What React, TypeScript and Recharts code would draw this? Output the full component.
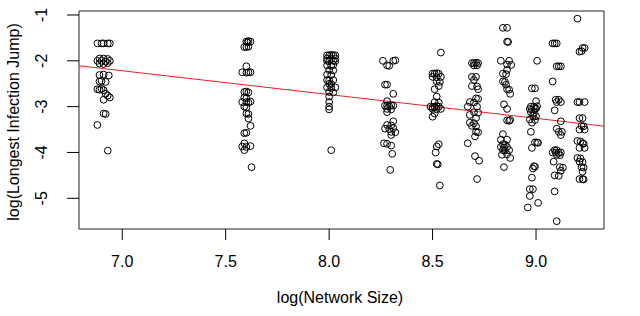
import {
  ScatterChart, Scatter, XAxis, YAxis, ReferenceLine, ReferenceArea,
} from "recharts";

type Pt = [number, number];

// log(network size) vs log(longest infection jump), one group per network size
const N1000: Pt[] = [
  [6.88, -1.62], [6.9, -1.62], [6.91, -1.62], [6.93, -1.62], [6.94, -1.62],
  [6.89, -1.95], [6.91, -1.95], [6.93, -1.96],
  [6.88, -2.0], [6.9, -2.0], [6.92, -2.02], [6.94, -2.0],
  [6.89, -2.06], [6.91, -2.07], [6.93, -2.05],
  [6.89, -2.31], [6.91, -2.3], [6.935, -2.32],
  [6.89, -2.45], [6.9, -2.44], [6.92, -2.46],
  [6.88, -2.62], [6.89, -2.63], [6.9, -2.61], [6.91, -2.64],
  [6.92, -2.72], [6.93, -2.76], [6.94, -2.8], [6.91, -2.85],
  [6.91, -3.15], [6.92, -3.16],
  [6.88, -3.4],
  [6.93, -3.96],
];
const N2000: Pt[] = [
  [7.6, -1.58], [7.61, -1.57], [7.62, -1.58], [7.605, -1.6],
  [7.59, -1.7], [7.6, -1.7], [7.61, -1.69],
  [7.6, -2.12],
  [7.58, -2.25], [7.6, -2.26], [7.61, -2.25], [7.62, -2.25],
  [7.59, -2.68], [7.6, -2.67], [7.61, -2.69],
  [7.59, -2.8], [7.6, -2.82],
  [7.58, -2.9], [7.6, -2.9], [7.61, -2.91], [7.62, -2.89],
  [7.59, -3.0], [7.6, -3.02],
  [7.6, -3.15], [7.61, -3.16],
  [7.61, -3.26],
  [7.62, -3.42],
  [7.59, -3.58], [7.6, -3.57],
  [7.59, -3.8],
  [7.58, -3.87], [7.6, -3.88], [7.62, -3.86],
  [7.59, -3.95],
  [7.625, -4.32],
];
const N3000: Pt[] = [
  [7.99, -1.88], [8.0, -1.88], [8.01, -1.87], [8.02, -1.88], [8.03, -1.88],
  [7.99, -1.95], [8.01, -1.96], [8.03, -1.95],
  [7.99, -2.0], [8.0, -2.01], [8.02, -2.0], [8.03, -2.01],
  [7.99, -2.1], [8.01, -2.11], [8.02, -2.09],
  [8.0, -2.2], [8.02, -2.21],
  [7.99, -2.3], [8.01, -2.31],
  [7.99, -2.42], [8.0, -2.43], [8.02, -2.42],
  [8.0, -2.5], [8.01, -2.51],
  [7.99, -2.58], [8.01, -2.59], [8.03, -2.58],
  [8.0, -2.68], [8.02, -2.69],
  [8.0, -2.78],
  [8.0, -2.9],
  [8.0, -3.0],
  [8.0, -3.06],
  [8.01, -3.95],
];
const N4000: Pt[] = [
  [8.26, -2.0], [8.31, -2.0], [8.32, -1.99],
  [8.28, -2.1], [8.29, -2.11],
  [8.27, -2.52], [8.28, -2.52],
  [8.31, -2.72],
  [8.28, -2.88],
  [8.27, -2.98], [8.28, -2.98], [8.29, -2.99], [8.3, -2.97], [8.31, -2.98],
  [8.28, -3.05], [8.3, -3.06],
  [8.28, -3.12],
  [8.31, -3.32],
  [8.28, -3.4], [8.3, -3.41],
  [8.27, -3.48], [8.29, -3.49], [8.31, -3.47],
  [8.3, -3.55], [8.32, -3.56],
  [8.3, -3.62],
  [8.265, -3.8], [8.28, -3.81],
  [8.3, -3.85],
  [8.305, -4.03],
  [8.295, -4.38],
];
const N5000: Pt[] = [
  [8.54, -1.82],
  [8.5, -2.28], [8.51, -2.28], [8.52, -2.27], [8.53, -2.28],
  [8.5, -2.35], [8.52, -2.36], [8.54, -2.35],
  [8.52, -2.45], [8.535, -2.46],
  [8.53, -2.55],
  [8.51, -2.62],
  [8.52, -2.78],
  [8.51, -2.9], [8.53, -2.91],
  [8.49, -3.0], [8.5, -3.01], [8.51, -3.0], [8.52, -2.99], [8.53, -3.0],
  [8.5, -3.05], [8.52, -3.06], [8.54, -3.05],
  [8.51, -3.15],
  [8.5, -3.22],
  [8.53, -3.82],
  [8.52, -3.87],
  [8.515, -4.0],
  [8.52, -4.25], [8.525, -4.26],
  [8.535, -4.72],
];
const N6000: Pt[] = [
  [8.69, -2.05], [8.7, -2.05], [8.71, -2.04], [8.72, -2.05],
  [8.7, -2.1], [8.715, -2.1],
  [8.69, -2.35], [8.71, -2.35],
  [8.7, -2.42],
  [8.69, -2.55], [8.715, -2.56],
  [8.72, -2.62],
  [8.71, -2.82], [8.72, -2.83],
  [8.68, -2.9], [8.7, -2.91],
  [8.67, -3.0], [8.715, -3.0],
  [8.7, -3.12], [8.72, -3.13],
  [8.68, -3.18],
  [8.71, -3.25],
  [8.68, -3.35], [8.7, -3.36],
  [8.69, -3.42], [8.71, -3.43],
  [8.71, -3.55], [8.72, -3.56],
  [8.705, -3.65],
  [8.67, -3.8],
  [8.705, -4.08],
  [8.725, -4.18],
  [8.715, -4.58],
];
const N7000: Pt[] = [
  [8.84, -1.28], [8.86, -1.28],
  [8.86, -1.58], [8.865, -1.59],
  [8.83, -2.0], [8.87, -2.0],
  [8.86, -2.08], [8.88, -2.09],
  [8.86, -2.2],
  [8.84, -2.28], [8.855, -2.29],
  [8.84, -2.45], [8.85, -2.46],
  [8.855, -2.52],
  [8.86, -2.62], [8.87, -2.63],
  [8.875, -2.72],
  [8.845, -2.95],
  [8.86, -3.05],
  [8.86, -3.3], [8.87, -3.31], [8.875, -3.29],
  [8.84, -3.6],
  [8.83, -3.72], [8.86, -3.72],
  [8.84, -3.82], [8.85, -3.83],
  [8.83, -3.88], [8.845, -3.89], [8.86, -3.88],
  [8.84, -3.95], [8.85, -3.96], [8.87, -3.95],
  [8.835, -4.05], [8.86, -4.04],
  [8.875, -4.12],
  [8.845, -4.32],
];
const N8000: Pt[] = [
  [9.005, -2.0],
  [8.98, -2.6], [8.995, -2.6],
  [9.0, -2.88],
  [8.975, -3.0], [8.99, -3.0], [9.005, -2.99],
  [8.97, -3.05], [8.98, -3.06], [8.995, -3.05], [9.0, -3.04],
  [8.975, -3.12], [8.99, -3.13],
  [8.985, -3.2], [9.0, -3.21],
  [8.97, -3.28], [8.995, -3.29],
  [8.98, -3.35],
  [8.975, -3.55],
  [8.995, -3.78], [9.005, -3.78], [9.01, -3.79],
  [8.98, -3.9],
  [8.99, -4.3], [8.995, -4.31],
  [8.985, -4.35],
  [8.98, -4.55],
  [8.97, -4.8], [8.985, -4.8],
  [8.97, -4.95],
  [9.01, -5.1],
  [8.96, -5.2],
];
const N9000: Pt[] = [
  [9.08, -1.62], [9.09, -1.62], [9.1, -1.62],
  [9.1, -2.12], [9.11, -2.12], [9.12, -2.12],
  [9.08, -2.45],
  [9.095, -2.85], [9.11, -2.85],
  [9.1, -2.9], [9.12, -2.9],
  [9.09, -3.08],
  [9.12, -3.32],
  [9.1, -3.48],
  [9.11, -3.55], [9.125, -3.55],
  [9.12, -3.62],
  [9.09, -3.95], [9.1, -3.95],
  [9.08, -4.0], [9.095, -4.0], [9.11, -4.01], [9.12, -4.0],
  [9.1, -4.05], [9.115, -4.06],
  [9.085, -4.2],
  [9.115, -4.32], [9.13, -4.33],
  [9.12, -4.4],
  [9.09, -4.5], [9.11, -4.51],
  [9.09, -4.85],
  [9.1, -5.5],
];
const N10000: Pt[] = [
  [9.2, -1.08],
  [9.225, -1.72], [9.235, -1.72],
  [9.21, -1.8], [9.22, -1.79],
  [9.2, -2.9], [9.21, -2.9], [9.235, -2.9],
  [9.21, -3.25], [9.225, -3.25],
  [9.22, -3.42], [9.23, -3.43],
  [9.21, -3.5], [9.235, -3.5],
  [9.2, -3.75], [9.215, -3.76],
  [9.225, -3.8], [9.23, -3.81],
  [9.21, -3.9], [9.235, -3.9],
  [9.2, -4.12], [9.215, -4.13],
  [9.21, -4.2], [9.225, -4.21],
  [9.22, -4.32], [9.23, -4.33],
  [9.225, -4.42],
  [9.21, -4.58], [9.225, -4.58], [9.23, -4.59],
];

const X_TICKS = [7, 7.5, 8, 8.5, 9];
const Y_TICKS = [-5, -4, -3, -2, -1];
const X_DOMAIN: [number, number] = [6.791, 9.3285];
const Y_DOMAIN: [number, number] = [-5.67, -0.913];

// fitted line
const FIT_INTERCEPT = 1.416;
const FIT_SLOPE = -0.519;

const points = [N1000, N2000, N3000, N4000, N5000, N6000, N7000, N8000, N9000, N10000]
  .flat()
  .map(([x, y]) => ({ x, y }));

const fit = (x: number) => FIT_INTERCEPT + FIT_SLOPE * x;

const FONT = "'Liberation Sans', Arial, sans-serif";

const XTick = ({ x, y, payload }: any) => (
  <text x={x} y={y + 25} textAnchor="middle" fontSize={16} fill="#000" fontFamily={FONT}>
    {payload.value.toFixed(1)}
  </text>
);

const YTick = ({ y, payload }: any) => (
  <text
    x={47}
    y={y}
    transform={`rotate(-90, 47, ${y})`}
    textAnchor="middle"
    fontSize={16}
    fill="#000"
    fontFamily={FONT}
  >
    {payload.value}
  </text>
);

const Ring = (p: any) => (
  <circle cx={p.cx} cy={p.cy} r={3.4} fill="none" stroke="#000" strokeWidth={1} />
);

export default function App() {
  return (
    <div style={{ position: "absolute", left: 0, top: 0, background: "#fff" }}>
      <ScatterChart
        width={640}
        height={316}
        margin={{ top: 11, right: 36, bottom: 0, left: 0 }}
      >
        <XAxis
          type="number"
          dataKey="x"
          domain={X_DOMAIN}
          ticks={X_TICKS}
          allowDataOverflow
          height={87}
          axisLine={false}
          tickLine={{ stroke: "#000" }}
          tickSize={11}
          tick={<XTick />}
          interval={0}
        />
        <YAxis
          type="number"
          dataKey="y"
          domain={Y_DOMAIN}
          ticks={Y_TICKS}
          allowDataOverflow
          width={79}
          axisLine={false}
          tickLine={{ stroke: "#000" }}
          tickSize={12}
          tick={<YTick />}
          interval={0}
        />
        <Scatter data={points} shape={Ring} isAnimationActive={false} />
        <ReferenceLine
          segment={[
            { x: X_DOMAIN[0], y: fit(X_DOMAIN[0]) },
            { x: X_DOMAIN[1], y: fit(X_DOMAIN[1]) },
          ]}
          stroke="#e8202a"
          strokeWidth={1}
        />
        <ReferenceArea
          x1={X_DOMAIN[0]}
          x2={X_DOMAIN[1]}
          y1={Y_DOMAIN[0]}
          y2={Y_DOMAIN[1]}
          fill="none"
          stroke="#222"
          strokeWidth={1}
          fillOpacity={0}
        />
      </ScatterChart>
      <svg
        width={640}
        height={316}
        style={{ position: "absolute", left: 0, top: 0, pointerEvents: "none" }}
      >
        <text x={340} y={303} textAnchor="middle" fontSize={16} fill="#000" fontFamily={FONT}>
          log(Network Size)
        </text>
        <text
          x={19}
          y={122}
          transform="rotate(-90, 19, 122)"
          textAnchor="middle"
          fontSize={16}
          fill="#000"
          fontFamily={FONT}
        >
          log(Longest Infection Jump)
        </text>
      </svg>
    </div>
  );
}
